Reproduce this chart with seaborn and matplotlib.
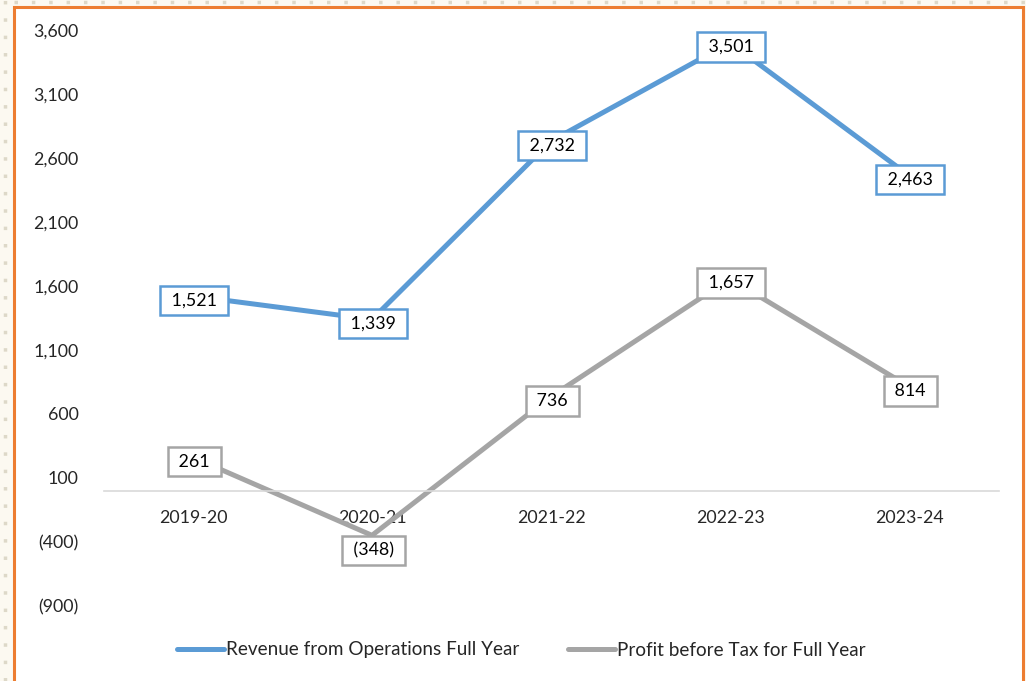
import matplotlib
matplotlib.use("Agg")
import matplotlib.pyplot as plt
from matplotlib.patches import Rectangle
from matplotlib.lines import Line2D
import seaborn as sns
import pandas as pd

years = ["2019-20", "2020-21", "2021-22", "2022-23", "2023-24"]
revenue = [1521, 1339, 2732, 3501, 2463]
profit = [261, -348, 736, 1657, 814]
series_names = ["Revenue from Operations Full Year", "Profit before Tax for Full Year"]
yticks = [-900, -400, 100, 600, 1100, 1600, 2100, 2600, 3100, 3600]

BLUE = "#5B9BD5"
GRAY = "#A5A5A5"
ORANGE = "#ED7D31"

sns.set_theme(style="white")
plt.rcParams["font.family"] = ["Lato", "DejaVu Sans"]

W, H = 1026, 681
fig = plt.figure(figsize=(W / 100, H / 100), dpi=100, facecolor="#FCF9F1")

# frame
fig.add_artist(Rectangle((14 / W, -0.01), (1023 - 14) / W, (H - 7) / H + 0.01,
                         transform=fig.transFigure, facecolor="white",
                         edgecolor=ORANGE, lw=2.2, zorder=0))
fig.add_artist(Line2D([5 / W, 5 / W], [0, 1], transform=fig.transFigure,
                      color="#DDD8C8", lw=2.5, ls=(0, (1, 4)), zorder=0))
fig.add_artist(Line2D([14 / W, 1], [1 - 2 / H, 1 - 2 / H], transform=fig.transFigure,
                      color="#DDD8C8", lw=2.5, ls=(0, (1, 4)), zorder=0))

ax = fig.add_axes([103.5 / W, 1 - 606 / H, (998.5 - 103.5) / W, (606 - 30) / H])
ax.set_facecolor("none")

df = pd.DataFrame({
    "Year": years * 2,
    "Value": revenue + profit,
    "Series": [series_names[0]] * len(years) + [series_names[1]] * len(years),
})
sns.lineplot(data=df, x="Year", y="Value", hue="Series", palette=[BLUE, GRAY],
             lw=3.6, ax=ax, legend=False, sort=False)

ax.set_xlim(-0.5, len(years) - 0.5)
ax.set_ylim(-900, 3600)
ax.set_yticks(yticks)
ax.set_yticklabels([f"({abs(v):,})" if v < 0 else f"{v:,}" for v in yticks], fontsize=12.8)
ax.tick_params(axis="y", length=0, pad=18)
ax.tick_params(axis="x", length=0, pad=14, labelsize=12.8)
ax.set_xlabel("")
ax.set_ylabel("")
for s in ["left", "right", "top"]:
    ax.spines[s].set_visible(False)
ax.spines["bottom"].set_position(("data", 0))
ax.spines["bottom"].set_color("#D9D9D9")
ax.spines["bottom"].set_linewidth(1.2)

def fmt(v):
    return f"({abs(v):,})" if v < 0 else f"{v:,}"

for vals, col in [(revenue, BLUE), (profit, GRAY)]:
    for i, v in enumerate(vals):
        dy = -11 if v < 0 else -3
        ax.annotate(" " + fmt(v) + " ", (i, v), xytext=(1, dy), textcoords="offset points",
                    ha="center", va="center", fontsize=12.8, color="black",
                    bbox=dict(boxstyle="square,pad=0.38", fc="white", ec=col, lw=1.8),
                    zorder=5)

handles = [Line2D([], [], color=BLUE, lw=3.6), Line2D([], [], color=GRAY, lw=3.6)]
fig.legend(handles, series_names, loc="center", bbox_to_anchor=(0.508, 1 - 650 / H),
           ncol=2, frameon=False, fontsize=13.6, handlelength=2.5, handletextpad=0.1,
           columnspacing=2.6)

fig.savefig("out.png", dpi=100, facecolor=fig.get_facecolor())
